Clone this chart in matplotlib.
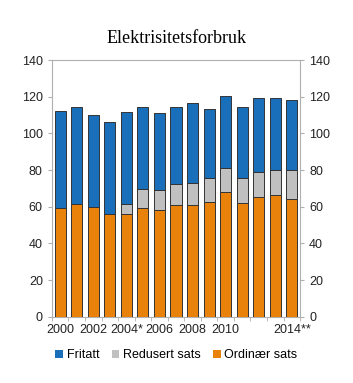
import numpy as np
import matplotlib.pyplot as plt

plt.rcParams['font.family'] = ['Liberation Sans', 'DejaVu Sans']

years = ['2000', '', '2002', '', '2004*', '', '2006', '', '2008', '', '2010', '', '', '', '2014**']
ordinaer = [59.1, 61.5, 60.0, 55.8, 55.8, 59.1, 58.0, 60.7, 60.7, 62.4, 68.2, 62.2, 65.1, 66.5, 64.0]
redusert = [0.0, 0.0, 0.0, 0.0, 5.7, 10.7, 10.9, 11.5, 12.4, 13.2, 13.1, 13.3, 13.6, 13.3, 15.8]
fritatt = [53.3, 52.7, 50.0, 50.2, 50.1, 44.4, 42.0, 42.5, 43.4, 37.7, 39.4, 39.2, 40.4, 39.3, 38.4]

c_ord = '#e8820a'
c_red = '#c0c0c0'
c_fri = '#1a6fba'
spine = '#b0b0b0'
fs = 9

fig = plt.figure(figsize=(3.53, 3.83), dpi=100)
ax = fig.add_axes([0.147, 0.173, 0.703, 0.67])

x = np.arange(len(ordinaer))
ordinaer = np.array(ordinaer)
redusert = np.array(redusert)
fritatt = np.array(fritatt)
w = 0.67
ax.bar(x, ordinaer, w, color=c_ord, edgecolor='#333333', linewidth=0.7, label='Ordinær sats', zorder=3)
ax.bar(x, redusert, w, bottom=ordinaer, color=c_red, edgecolor='#333333', linewidth=0.7, label='Redusert sats', zorder=3)
ax.bar(x, fritatt, w, bottom=ordinaer + redusert, color=c_fri, edgecolor='#333333', linewidth=0.7, label='Fritatt', zorder=3)

ax.set_xlim(-0.5, len(x) - 0.5)
ax.set_ylim(0, 140)
ax.set_yticks(np.arange(0, 141, 20))
ax.set_xticks(x)
ax.set_xticklabels(years)
ax.set_xticks(np.arange(-0.5, len(x), 1), minor=True)
ax.tick_params(axis='x', which='major', length=0, labelsize=fs, pad=5)
ax.tick_params(axis='x', which='minor', length=3, color=spine)
ax.tick_params(axis='y', length=3, color=spine, labelsize=fs, labelcolor='#222222')
for s in ax.spines.values():
    s.set_color(spine)
    s.set_linewidth(0.8)
ax.tick_params(axis='x', labelcolor='#222222')

ax2 = ax.twinx()
ax2.set_ylim(0, 140)
ax2.set_yticks(np.arange(0, 141, 20))
ax2.tick_params(axis='y', length=3, color=spine, labelsize=fs, labelcolor='#222222')
for s in ax2.spines.values():
    s.set_visible(False)

fig.text(0.5, 0.9, 'Elektrisitetsforbruk', ha='center', va='center', fontsize=13,
         family=['Liberation Serif', 'DejaVu Serif'])

h, l = ax.get_legend_handles_labels()
leg = fig.legend(h[::-1], l[::-1], loc='center', bbox_to_anchor=(0.5, 0.073), ncol=3, frameon=False,
                 fontsize=fs, handlelength=0.6, handleheight=0.6, handletextpad=0.3, columnspacing=1.0)
for p in leg.get_patches():
    p.set_edgecolor('none')

fig.savefig('out.png', dpi=100)
